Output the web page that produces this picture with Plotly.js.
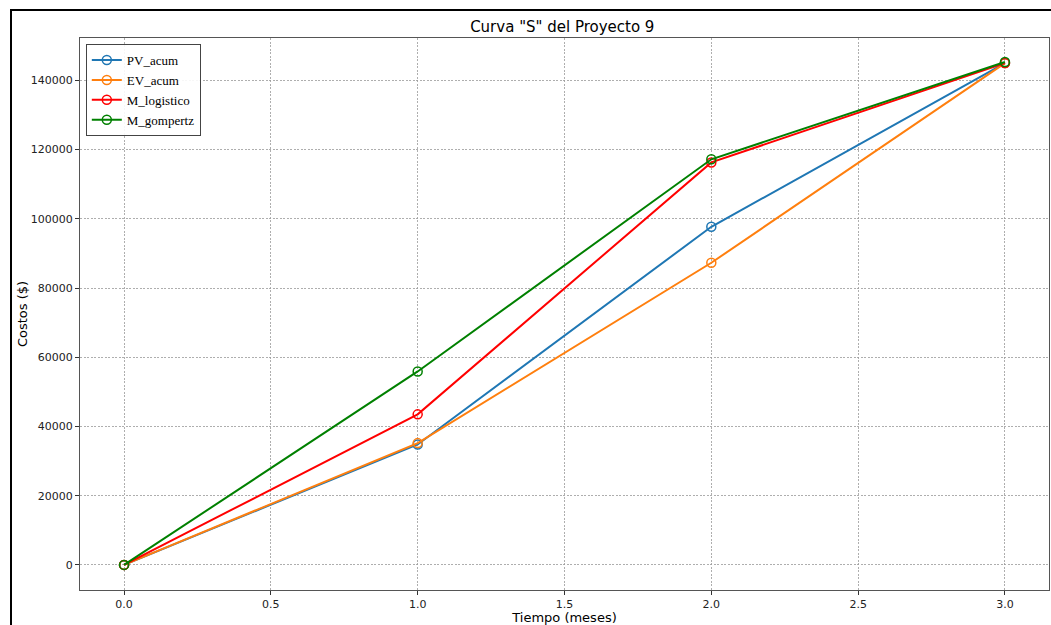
<!DOCTYPE html>
<html>
<head>
<meta charset="utf-8">
<script src="https://cdn.plot.ly/plotly-3.0.1.min.js"></script>
<style>
html,body{margin:0;padding:0;background:#fff;}
#frame{position:absolute;left:10px;top:9px;width:1100px;height:700px;border-left:2px solid #000;border-top:2px solid #000;pointer-events:none;z-index:10;}
#chart{width:1051px;height:625px;}
</style>
</head>
<body>
<div id="chart"></div>
<div id="frame"></div>
<script>
const tiempo = [0, 1, 2, 3];
const pvAcum = [0, 34800, 97700, 145000];
const evAcum = [0, 35200, 87300, 145000];
const mLogistico = [0, 43500, 116300, 145000];
const mGompertz = [0, 55900, 117200, 145300];
const seriesNames = ['PV_acum', 'EV_acum', 'M_logistico', 'M_gompertz'];
const seriesColors = ['#1f77b4', '#ff7f0e', '#ff0000', '#008000'];
const seriesValues = [pvAcum, evAcum, mLogistico, mGompertz];

const traces = seriesValues.map((v, i) => ({
  x: tiempo, y: v, name: seriesNames[i], type: 'scatter', mode: 'lines+markers',
  line: {color: seriesColors[i], width: 2},
  marker: {symbol: 'circle-open', size: 9, color: seriesColors[i], line: {width: 1.5, color: seriesColors[i]}}
}));

const axisCommon = {
  showline: true, mirror: true, linecolor: '#555', linewidth: 1,
  ticks: 'outside', ticklen: 4, tickcolor: '#333', tickwidth: 1,
  showgrid: true, gridcolor: '#9a9a9a', griddash: '2px,1.5px', gridwidth: 0.8,
  zeroline: false,
  tickfont: {family: 'DejaVu Sans', size: 11, color: '#222'}
};

const layout = {
  width: 1051, height: 625,
  margin: {l: 80, r: 2, t: 38, b: 35},
  paper_bgcolor: '#fff', plot_bgcolor: '#fff',
  title: {text: 'Curva "S" del Proyecto 9', x: 0.535, xanchor: 'center', y: 0.958, yanchor: 'middle',
    font: {family: 'DejaVu Sans', size: 15, color: '#000'}},
  xaxis: Object.assign({}, axisCommon, {
    range: [-0.15, 3.15], tickvals: [0, 0.5, 1, 1.5, 2, 2.5, 3], ticktext: ['0.0','0.5','1.0','1.5','2.0','2.5','3.0'],
    title: {text: 'Tiempo (meses)', standoff: 2, font: {family: 'DejaVu Sans', size: 13, color: '#000'}}
  }),
  yaxis: Object.assign({}, axisCommon, {
    range: [-7250, 152250], tickvals: [0, 20000, 40000, 60000, 80000, 100000, 120000, 140000],
    ticktext: ['0','20000','40000','60000','80000','100000','120000','140000'],
    title: {text: 'Costos ($)', standoff: 0, font: {family: 'DejaVu Sans', size: 13, color: '#000'}}
  }),
  legend: {x: 0.006, y: 0.989, xanchor: 'left', yanchor: 'top', bgcolor: 'rgba(255,255,255,0.9)',
    bordercolor: '#444', borderwidth: 1, font: {family: 'Liberation Serif', size: 13, color: '#000'},
    tracegroupgap: 0},
  showlegend: true
};

Plotly.newPlot('chart', traces, layout, {displayModeBar: false, staticPlot: true});
</script>
</body>
</html>
